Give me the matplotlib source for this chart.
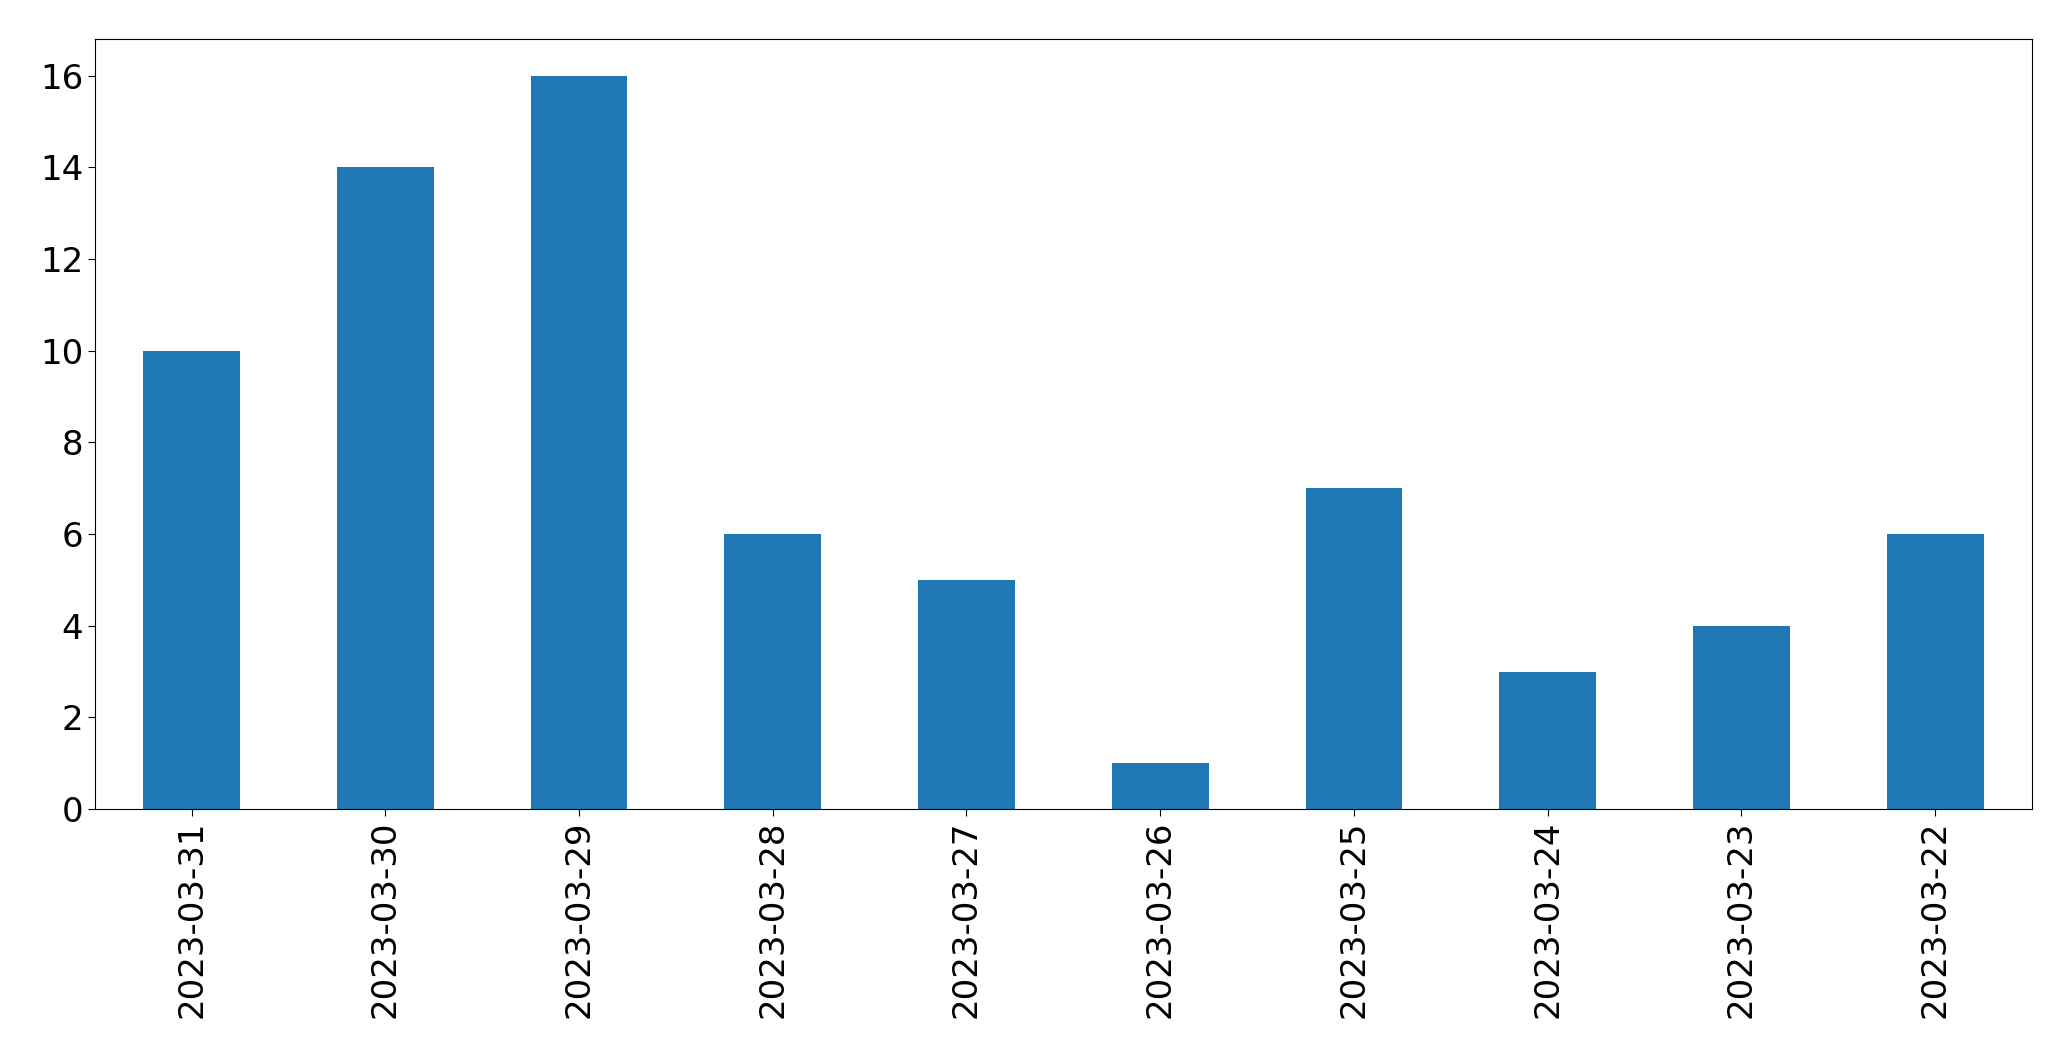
import matplotlib
matplotlib.use("Agg")
import matplotlib.pyplot as plt
import pandas as pd

dates = ["2023-03-31", "2023-03-30", "2023-03-29", "2023-03-28", "2023-03-27",
         "2023-03-26", "2023-03-25", "2023-03-24", "2023-03-23", "2023-03-22"]
counts = [10, 14, 16, 6, 5, 1, 7, 3, 4, 6]

series = pd.Series(counts, index=dates)

fig, ax = plt.subplots(figsize=(20.71, 10.61), dpi=100)
fig.subplots_adjust(left=94.7 / 2071, right=2032 / 2071, top=1 - 39 / 1061, bottom=1 - 809 / 1061)

series.plot.bar(ax=ax, color="#1f77b4")

ax.tick_params(axis="both", labelsize=24.5, length=4.8)

fig.savefig("out.png", dpi=100)
